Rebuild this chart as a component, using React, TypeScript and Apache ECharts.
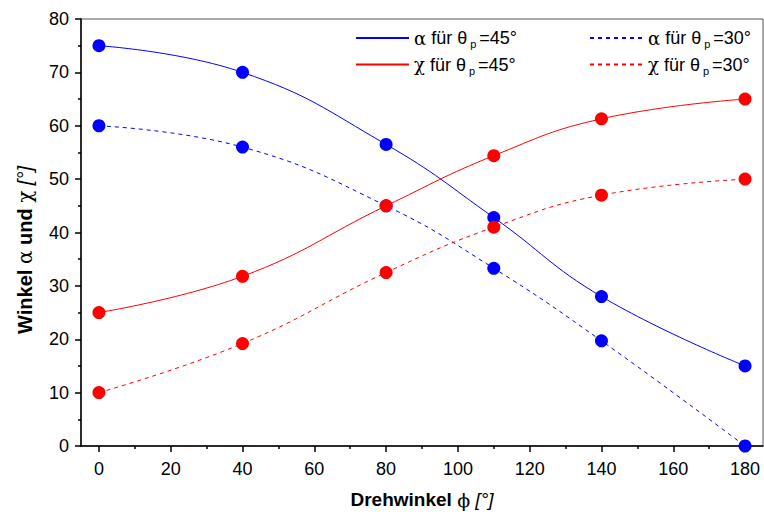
import React, { useEffect, useRef } from "react";
import * as echarts from "echarts";

const xValues = [0, 40, 80, 110, 140, 180];
const alpha45 = [75, 70, 56.5, 42.8, 28, 15];
const alpha30 = [60, 56, 45, 33.3, 19.7, 0];
const chi45 = [25, 31.8, 45, 54.4, 61.3, 65];
const chi30 = [10, 19.2, 32.5, 41, 47, 50];
const xMajorTicks = [0, 20, 40, 60, 80, 100, 120, 140, 160, 180];
const xMinorTicks = [10, 30, 50, 70, 90, 110, 130, 150, 170];

const BLUE = "#0000ff";
const RED = "#ff0000";
const FONT = "Liberation Sans, Arial, sans-serif";

const pairs = (ys: number[]) => xValues.map((x, i) => [x, ys[i]]);

const names = {
  a45: "a45",
  a30: "a30",
  c45: "c45",
  c30: "c30",
};

const legendLabel: Record<string, string> = {
  a45: "{g|α} für θ{sub|p}=45°",
  a30: "{g|α} für θ{sub|p}=30°",
  c45: "{g|χ} für θ{sub|p}=45°",
  c30: "{g|χ} für θ{sub|p}=30°",
};

const legendRich = {
  g: { fontSize: 18, fontFamily: "DejaVu Serif, serif", color: "#000" },
  sub: { fontSize: 11, color: "#000", fontFamily: FONT, padding: [12, 3, 0, 3] },
};

const yTitleRich = {
  b: { fontSize: 20, fontWeight: "bold", color: "#000", fontFamily: FONT },
  g: { fontSize: 20, color: "#000", fontFamily: "DejaVu Serif, serif" },
  i: { fontSize: 20, fontStyle: "italic", color: "#000", fontFamily: FONT },
};

const xTitleRich = {
  b: { fontSize: 19, fontWeight: "bold", color: "#000", fontFamily: FONT },
  g: { fontSize: 19, color: "#000", fontFamily: "DejaVu Serif, serif" },
  i: { fontSize: 19, fontStyle: "italic", color: "#000", fontFamily: FONT },
};

export default function App() {
  const ref = useRef<HTMLDivElement>(null);
  useEffect(() => {
    if (!ref.current) return;
    const chart = echarts.init(ref.current, null, { renderer: "svg" });
    const lineSeries = (name: string, ys: number[], color: string, dashed: boolean) => ({
      name,
      type: "line",
      data: pairs(ys),
      smooth: 0.45,
      symbol: "none",
      showSymbol: false,
      lineStyle: { color, width: 1, type: dashed ? [4, 4] : "solid" },
      itemStyle: { color },
      z: 2,
    });
    const dotSeries = (ys: number[], color: string) => ({
      type: "scatter",
      data: pairs(ys),
      symbol: "circle",
      symbolSize: 13,
      itemStyle: { color, opacity: 1 },
      z: 3,
    });
    const legendBase = {
      orient: "vertical",
      itemWidth: 53,
      itemHeight: 14,
      itemGap: 6,
      itemStyle: { opacity: 0 },
      textStyle: { fontSize: 18, fontFamily: FONT, color: "#000", rich: legendRich },
      formatter: (n: string) => legendLabel[n],
      selectedMode: false,
    };
    chart.setOption({
      animation: false,
      backgroundColor: "#fff",
      textStyle: { fontFamily: FONT },
      grid: {
        left: 81,
        right: 1,
        top: 19,
        bottom: 72,
        show: true,
        borderColor: "#555",
        borderWidth: 1,
      },
      legend: [
        { ...legendBase, left: 350, top: 24, data: [names.a45, names.c45] },
        { ...legendBase, left: 584, top: 24, data: [names.a30, names.c30] },
      ],
      graphic: [
        {
          type: "text",
          x: 25,
          y: 250,
          rotation: Math.PI / 2,
          style: {
            text: "{b|Winkel }{g|α}{b| und }{g|χ}{i| [°]}",
            rich: yTitleRich,
            align: "center",
            verticalAlign: "middle",
          },
        },
      ],
      xAxis: [
        {
          type: "value",
          min: -5,
          max: 185,
          name: "{b|Drehwinkel }{g|ϕ}{i| [°]}",
          nameLocation: "middle",
          nameGap: 44,
          nameTextStyle: { rich: xTitleRich },
          axisLine: { show: true, onZero: false, lineStyle: { color: "#000", width: 1.5 } },
          axisTick: { show: true, inside: false, length: 6, customValues: xMajorTicks, lineStyle: { color: "#000", width: 1.5 } },
          axisLabel: { show: true, customValues: xMajorTicks, fontSize: 18, color: "#000", margin: 14, fontFamily: FONT },
          splitLine: { show: false },
        },
        {
          type: "value",
          min: -5,
          max: 185,
          position: "bottom",
          axisLine: { show: false },
          axisTick: { show: true, inside: false, length: 3, customValues: xMinorTicks, lineStyle: { color: "#000", width: 1.5 } },
          axisLabel: { show: false },
          splitLine: { show: false },
        },
      ],
      yAxis: {
        type: "value",
        min: 0,
        max: 80,
        interval: 10,
        axisLine: { show: true, onZero: false, lineStyle: { color: "#000", width: 1.5 } },
        axisTick: { show: true, inside: false, length: 6, lineStyle: { color: "#000", width: 1.5 } },
        minorTick: { show: true, splitNumber: 2, length: 3, lineStyle: { color: "#000", width: 1.5 } },
        axisLabel: { fontSize: 18, color: "#000", margin: 12, fontFamily: FONT },
        splitLine: { show: false },
      },
      series: [
        lineSeries(names.a45, alpha45, BLUE, false),
        lineSeries(names.a30, alpha30, BLUE, true),
        lineSeries(names.c45, chi45, RED, false),
        lineSeries(names.c30, chi30, RED, true),
        dotSeries(alpha45, BLUE),
        dotSeries(alpha30, BLUE),
        dotSeries(chi45, RED),
        dotSeries(chi30, RED),
      ],
    });
    return () => chart.dispose();
  }, []);
  return <div ref={ref} style={{ width: 764, height: 518, position: "absolute", left: 0, top: 0 }} />;
}
